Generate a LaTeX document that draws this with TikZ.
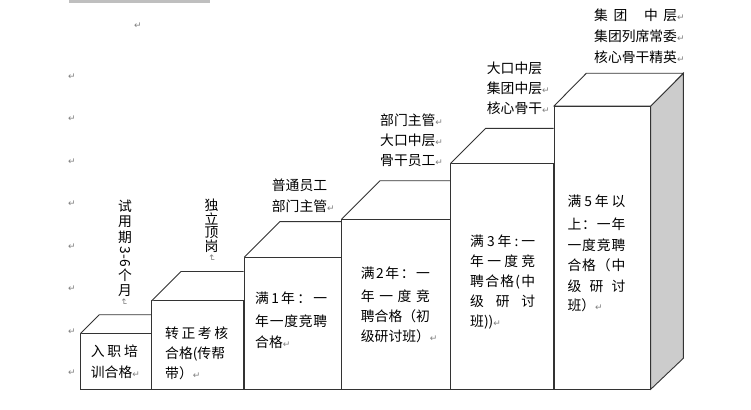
\documentclass[tikz,border=0pt]{standalone}
\usepackage{fontspec}
\setmainfont{Noto Sans CJK SC}
\newfontfamily\dv{DejaVu Sans}
\newcommand\pmk{{\dv\fontsize{9}{9}\selectfont\textcolor{black!50}{↵}}}
\newcommand\jl[2]{\makebox[#1pt][s]{#2}}
\begin{document}
\begin{tikzpicture}[x=1pt,y=-1pt,
  blk/.style={draw=black!80, line width=0.9pt, fill=white, line join=miter},
  side/.style={draw=black!80, line width=0.9pt, fill=black!20, line join=miter},
  txt/.style={anchor=base west, inner sep=0pt, font=\fontsize{13.8}{16}\selectfont},
  vch/.style={inner sep=0pt, font=\fontsize{13.8}{16}\selectfont},
  pm/.style={inner sep=0pt, text=black!50, font=\dv\fontsize{9}{9}\selectfont}]
\useasboundingbox[fill=white] (0,0) rectangle (751,409);
\fill[black!25] (69,0) rectangle (210,3);
% paragraph marks
\node[pm] (m0) at (138,26) {↵};
\foreach \y [count=\i] in {77,119,162,204,247,289,332,373}
  \node[pm] (m\i) at (72,\y) {↵};
% block 1
\draw[blk] (80.7,389) rectangle (151.7,333.3);
\draw[blk] (80.7,333.3) -- (99.3,314.7) -- (151.7,314.7);
% block 2
\draw[blk] (151.7,389) rectangle (243.5,300.7);
\draw[blk] (151.7,300.7) -- (180.9,271.5) -- (243.5,271.5);
% block 3
\draw[blk] (244.3,389) rectangle (341.7,257.3);
\draw[blk] (244.3,257.3) -- (280,221.6) -- (341.7,221.6);
% block 4
\draw[blk] (341.7,389) rectangle (450.7,219);
\draw[blk] (341.7,219) -- (380,180.7) -- (450.7,180.7);
% block 5
\draw[blk] (450.7,389) rectangle (553.7,163.3);
\draw[blk] (450.7,163.3) -- (485.7,128.3) -- (553.7,128.3);
% block 6
\draw[side] (650.7,106) -- (683.3,73.3) -- (683.3,358.3) -- (650.7,389.3) -- cycle;
\draw[blk] (554,106) -- (586.3,73.3) -- (683.3,73.3) -- (650.7,106) -- cycle;
\draw[blk] (554,389.3) rectangle (650.7,106);
% texts block 1
\node[txt] (a1) at (90.7,356.9) {\jl{47}{入\hfill{}职\hfill{}培}};
\node[txt] (a2) at (90.7,377.9) {训合格\pmk};
% block 2
\node[txt] (b1) at (165,338.5) {\jl{63}{转\hfill{}正\hfill{}考\hfill{}核}};
\node[txt] (b2) at (165,358.5) {合格(传帮};
\node[txt] (b3) at (165,378.5) {带）\pmk};
% block 3
\node[txt] (c1) at (255,303.5) {\jl{72}{满\hfill{}1\hfill{}年\hfill{}：\hfill{}一}};
\node[txt] (c2) at (255,326.9) {\jl{72}{年\hfill{}一\hfill{}度\hfill{}竞\hfill{}聘}};
\node[txt] (c3) at (255,347.5) {合格\pmk};
% block 4
\node[txt] (d1) at (360.7,278.5) {\jl{69}{满\hfill{}2\hfill{}年\hfill{}：\hfill{}一}};
\node[txt] (d2) at (360.7,301.9) {\jl{69}{年\hfill{}一\hfill{}度\hfill{}竞}};
\node[txt] (d3) at (360.7,321.9) {\jl{69}{聘\hfill{}合\hfill{}格\hfill{}（\hfill{}初}};
\node[txt] (d4) at (360.7,341.9) {级研讨班）\pmk};
% block 5
\node[txt] (e1) at (470,246.9) {\jl{65}{满\hfill{}3\hfill{}年\hfill{}:\hfill{}一}};
\node[txt] (e2) at (470,266.9) {\jl{65}{年\hfill{}一\hfill{}度\hfill{}竞}};
\node[txt] (e3) at (470,286.9) {\jl{65}{聘\hfill{}合\hfill{}格\hfill{}(\hfill{}中}};
\node[txt] (e4) at (470,306.9) {\jl{65}{级\hfill{}研\hfill{}讨}};
\node[txt] (e5) at (470,326.9) {班))\pmk};
% block 6
\node[txt] (f1) at (567.3,206.9) {\jl{58}{满\hfill{}5\hfill{}年\hfill{}以}};
\node[txt] (f2) at (567.3,229.2) {\jl{58}{上\hfill{}：\hfill{}一\hfill{}年}};
\node[txt] (f3) at (567.3,250.2) {\jl{58}{一\hfill{}度\hfill{}竞\hfill{}聘}};
\node[txt] (f4) at (567.3,270.2) {\jl{58}{合\hfill{}格\hfill{}（\hfill{}中}};
\node[txt] (f5) at (567.3,291.2) {\jl{58}{级\hfill{}研\hfill{}讨}};
\node[txt] (f6) at (567.3,310.2) {班）\pmk};
% labels
\node[txt] (g1) at (271.7,190.2) {普通员工};
\node[txt] (g2) at (271.7,211.9) {部门主管\pmk};
\node[txt] (h1) at (380,125.2) {部门主管\pmk};
\node[txt] (h2) at (380,145.2) {大口中层\pmk};
\node[txt] (h3) at (380,165.2) {骨干员工\pmk};
\node[txt] (i1) at (486.7,73.2) {大口中层};
\node[txt] (i2) at (486.7,93.5) {集团中层\pmk};
\node[txt] (i3) at (486.7,113.5) {核心骨干\pmk};
\node[txt] (j1) at (594,20.2) {\jl{83}{集\hfill{}团\hfill\hfill\hfill{}中\hfill{}层}\pmk};
\node[txt] (j2) at (594,41.2) {集团列席常委\pmk};
\node[txt] (j3) at (594,62.5) {核心骨干精英\pmk};
% vertical labels
\foreach \c/\y [count=\i] in {试/206.5,用/222,期/237.5,{\rotatebox{-90}{3-6}}/257,个/275.5,月/290.5}
  \node[vch] (t\i) at (125,\y) {\c};
\node[pm, rotate=-90] (t7) at (124,302) {↵};
\foreach \c/\y [count=\i] in {独/205.7,立/219.2,顶/232.7,岗/246.2}
  \node[vch] (s\i) at (211.5,\y) {\c};
\node[pm, rotate=-90] (s5) at (211.7,258) {↵};
\end{tikzpicture}
\end{document}
